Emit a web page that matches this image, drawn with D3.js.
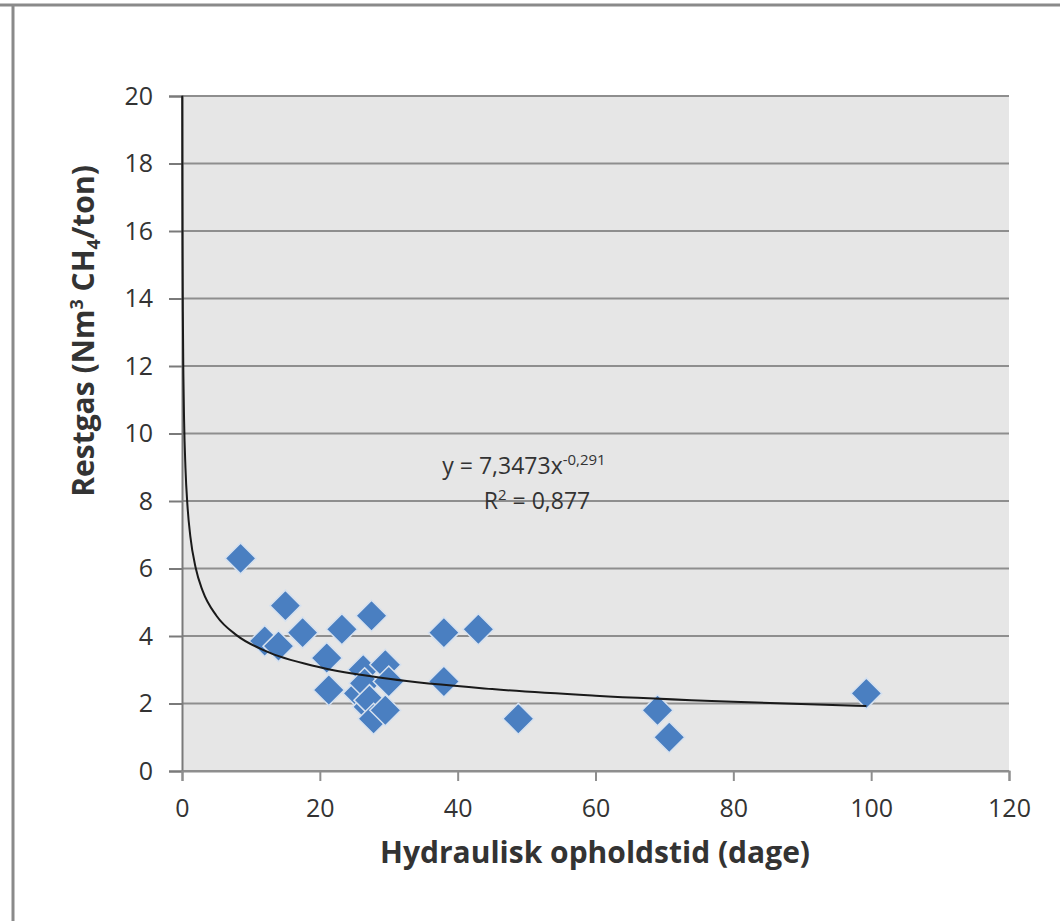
<!DOCTYPE html>
<html>
<head>
<meta charset="utf-8">
<script src="https://cdn.jsdelivr.net/npm/d3@7"></script>
<style>
  body { margin: 0; background: #fff; }
  text { font-family: "Open Sans", sans-serif; fill: #333; }
</style>
</head>
<body>
<div class="graph"></div>
<script>
// data
var days = [8.5, 12, 14, 15, 17.5, 21, 21.3, 23.2, 25.6, 26.3, 26.5, 27, 27.2, 27.5, 27.8, 29.5, 29.5, 30, 38, 38, 43, 48.8, 69, 70.7, 99.3];
var restgas = [6.3, 3.85, 3.7, 4.9, 4.1, 3.35, 2.4, 4.2, 2.3, 3.0, 2.6, 1.9, 2.1, 4.6, 1.55, 3.15, 1.8, 2.65, 4.1, 2.65, 4.2, 1.55, 1.8, 1.0, 2.3];
var xTicks = [0, 20, 40, 60, 80, 100, 120];
var yTicks = [0, 2, 4, 6, 8, 10, 12, 14, 16, 18, 20];
// trend line y = a * x^b (from the chart's equation)
var trendA = [7.3473];
var trendB = [-0.291];
var trendX = [0.032, 0.05, 0.08, 0.12, 0.2, 0.3, 0.5, 0.8, 1.2, 2, 3, 5, 8, 12, 20, 30, 45, 60, 80, 99.3];

var width = 1060;
var height = 921;
var plotLeft = 182, plotRight = 1009, plotTop = 96, plotBottom = 771;

var svg = d3.select(".graph").append("svg")
  .attr("width", width)
  .attr("height", height);

// frame of the original picture
svg.append("line").attr("x1", 0).attr("x2", width).attr("y1", 5).attr("y2", 5)
  .attr("stroke", "#8a8a8a").attr("stroke-width", 3);
svg.append("line").attr("x1", 13).attr("x2", 13).attr("y1", 5).attr("y2", height)
  .attr("stroke", "#8a8a8a").attr("stroke-width", 3);

var x = d3.scaleLinear().domain([0, 120]).range([plotLeft, plotRight]);
var y = d3.scaleLinear().domain([0, 20]).range([plotBottom, plotTop]);

// plot background
svg.append("rect")
  .attr("x", plotLeft).attr("y", plotTop)
  .attr("width", plotRight - plotLeft).attr("height", plotBottom - plotTop)
  .attr("fill", "#e6e6e6");

// horizontal gridlines
svg.append("g").selectAll("line")
  .data(yTicks)
  .join("line")
  .attr("x1", plotLeft).attr("x2", plotRight)
  .attr("y1", d => y(d)).attr("y2", d => y(d))
  .attr("stroke", "#8e8e8e").attr("stroke-width", 2);

// y axis
var yAxisGroup = svg.append("g").attr("transform", "translate(" + plotLeft + ",0)");
yAxisGroup.call(d3.axisLeft(y).tickValues(yTicks).tickSize(13).tickPadding(16));
yAxisGroup.selectAll("path, line").attr("stroke", "#7a7a7a").attr("stroke-width", 2);
yAxisGroup.selectAll("text").style("font-size", "25px").attr("fill", "#333")
  .style("font-family", "'Open Sans', sans-serif");

// x axis
var xAxisGroup = svg.append("g").attr("transform", "translate(0," + plotBottom + ")");
xAxisGroup.call(d3.axisBottom(x).tickValues(xTicks).tickSize(10).tickPadding(18));
xAxisGroup.selectAll("path, line").attr("stroke", "#8e8e8e").attr("stroke-width", 2);
xAxisGroup.selectAll("text").style("font-size", "25px").attr("fill", "#333")
  .style("font-family", "'Open Sans', sans-serif");

// points
svg.append("g").selectAll("path")
  .data(days.map((d, i) => ({x: d, y: restgas[i]})))
  .join("path")
  .attr("d", "M0,-15.5L15.5,0L0,15.5L-15.5,0Z")
  .attr("transform", d => "translate(" + x(d.x) + "," + y(d.y) + ")")
  .attr("fill", "#4a7fc1")
  .attr("stroke", "#d6e1ef")
  .attr("stroke-width", 1.5);

// trend line
var line = d3.line()
  .x(d => x(d))
  .y(d => y(trendA[0] * Math.pow(d, trendB[0])))
  .curve(d3.curveMonotoneX);

svg.append("path")
  .datum(trendX)
  .attr("fill", "none")
  .attr("stroke", "#1a1a1a")
  .attr("stroke-width", 2)
  .attr("d", line);

// equation
var eq = svg.append("text")
  .attr("x", 524).attr("y", 474)
  .attr("text-anchor", "middle")
  .style("font-size", "23px");
eq.append("tspan").text("y = 7,3473x");
eq.append("tspan").attr("dy", -9).style("font-size", "15px").text("-0,291");

var r2 = svg.append("text")
  .attr("x", 537).attr("y", 509)
  .attr("text-anchor", "middle")
  .style("font-size", "23px");
r2.append("tspan").text("R");
r2.append("tspan").attr("dy", -9).style("font-size", "15px").text("2");
r2.append("tspan").attr("dy", 9).text(" = 0,877");

// axis titles
svg.append("text")
  .attr("x", 595).attr("y", 863)
  .attr("text-anchor", "middle")
  .style("font-size", "30px")
  .style("font-weight", "bold")
  .attr("fill", "#1a1a1a")
  .text("Hydraulisk opholdstid (dage)");

var yt = svg.append("text")
  .attr("transform", "translate(94,331) rotate(-90)")
  .attr("text-anchor", "middle")
  .style("font-size", "30px")
  .style("font-weight", "bold")
  .attr("fill", "#1a1a1a");
yt.append("tspan").text("Restgas (Nm");
yt.append("tspan").attr("dy", -11).style("font-size", "18px").text("3");
yt.append("tspan").attr("dy", 11).text(" CH");
yt.append("tspan").attr("dy", 6).style("font-size", "18px").text("4");
yt.append("tspan").attr("dy", -6).text("/ton)");
</script>
</body>
</html>
